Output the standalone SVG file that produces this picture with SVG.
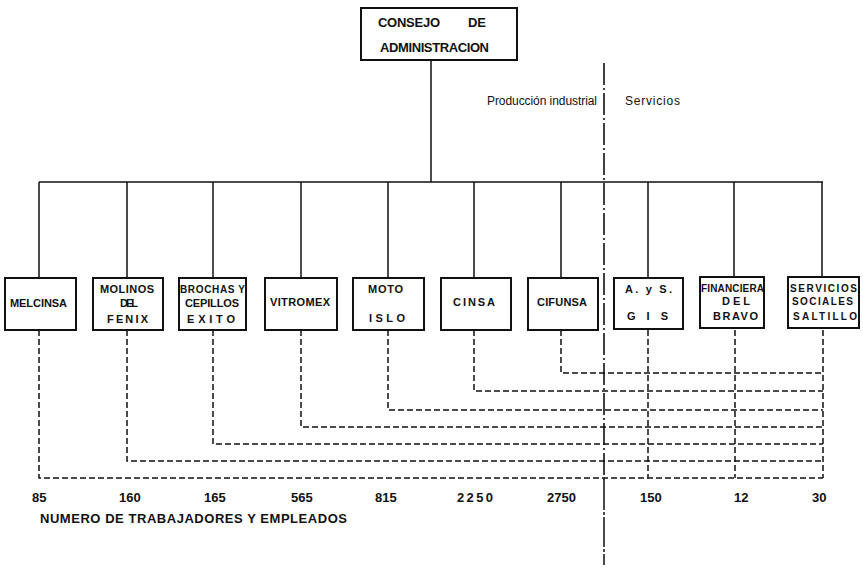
<svg xmlns="http://www.w3.org/2000/svg" width="863" height="570" viewBox="0 0 863 570">
<style>
.box{fill:#fff;stroke:#111;stroke-width:2}
.sol{fill:none;stroke:#111;stroke-width:1.5}
.dsh{fill:none;stroke:#111;stroke-width:1.5;stroke-dasharray:6 3}
.dd{fill:none;stroke:#111;stroke-width:1.6;stroke-dasharray:22 3 2 3}
.t{font-family:"Liberation Sans",Arial,sans-serif;font-weight:bold;font-size:11px;fill:#111}
.s{font-size:10px}
.h{font-family:"Liberation Sans",Arial,sans-serif;font-weight:bold;font-size:13px;fill:#111}
.n{font-family:"Liberation Sans",Arial,sans-serif;font-weight:bold;font-size:13px;fill:#111}
.l{font-family:"Liberation Sans",Arial,sans-serif;font-size:12px;fill:#111}
</style>
<rect width="863" height="570" fill="#fff"/>
<g id="connectors">
<path class="sol" d="M431 60 V182 M39 182 H823 M39 182 V277 M127 182 V277 M213 182 V277 M301 182 V277 M388 182 V277 M474 182 V277 M561 182 V277 M648 182 V277 M734 182 V277 M822 182 V277"/>
<path class="dd" d="M604 63 V480"/>
<path class="sol" d="M604 480 V565" stroke-dasharray="30 2 3 2"/>
<path class="dsh" d="M39 330 V478 H823 M127 330 V461 H823 M213 330 V444 H823 M301 330 V427 H823 M388 330 V410 H823 M474 330 V391 H823 M561 330 V373 H823 M648 330 V478 M735 330 V478 M823 330 V478"/>
</g>
<g id="consejo"><rect class="box" x="361" y="8" width="156" height="52"/>
<text class="h" x="378" y="27" textLength="62" lengthAdjust="spacing">CONSEJO</text>
<text class="h" x="468" y="27" textLength="18" lengthAdjust="spacing">DE</text>
<text class="h" x="380" y="52" textLength="109" lengthAdjust="spacing">ADMINISTRACION</text></g>
<g id="lbl-prod"><text class="l" x="487" y="105" textLength="110" lengthAdjust="spacing">Producción industrial</text></g>
<g id="lbl-serv"><text class="l" x="625" y="105" textLength="55" lengthAdjust="spacing">Servicios</text></g>
<g id="melcinsa"><rect class="box" x="5" y="278" width="71" height="52"/>
<text class="t" x="10" y="307" textLength="57" lengthAdjust="spacing">MELCINSA</text></g>
<g id="molinos"><rect class="box" x="93" y="278" width="70" height="52"/>
<text class="t" x="100" y="293" textLength="54" lengthAdjust="spacing">MOLINOS</text>
<text class="t" x="120" y="307" textLength="18" lengthAdjust="spacing">DEL</text>
<text class="t" x="107" y="323" textLength="41" lengthAdjust="spacing">FENIX</text></g>
<g id="brochas"><rect class="box" x="179" y="278" width="67" height="52"/>
<text class="t s" x="180" y="293" textLength="65" lengthAdjust="spacing">BROCHAS Y</text>
<text class="t" x="185" y="307" textLength="54" lengthAdjust="spacing">CEPILLOS</text>
<text class="t" x="187" y="323" textLength="48" lengthAdjust="spacing">EXITO</text></g>
<g id="vitromex"><rect class="box" x="265" y="278" width="72" height="52"/>
<text class="t" x="270" y="306" textLength="60" lengthAdjust="spacing">VITROMEX</text></g>
<g id="motoislo"><rect class="box" x="353" y="278" width="71" height="52"/>
<text class="t" x="368" y="293" textLength="35" lengthAdjust="spacing">MOTO</text>
<text class="t" x="369" y="322" textLength="36" lengthAdjust="spacing">ISLO</text></g>
<g id="cinsa"><rect class="box" x="441" y="278" width="70" height="52"/>
<text class="t" x="453" y="306" textLength="42" lengthAdjust="spacing">CINSA</text></g>
<g id="cifunsa"><rect class="box" x="528" y="278" width="70" height="52"/>
<text class="t" x="537" y="306" textLength="50" lengthAdjust="spacing">CIFUNSA</text></g>
<g id="ays"><rect class="box" x="614" y="278" width="69" height="51"/>
<text class="t" x="625" y="293" textLength="47" lengthAdjust="spacing">A. y S.</text>
<text class="t" x="627" y="320" textLength="41" lengthAdjust="spacing">G I S</text></g>
<g id="financiera"><rect class="box" x="700" y="277" width="64" height="51"/>
<text class="t s" x="701" y="292" textLength="63" lengthAdjust="spacing">FINANCIERA</text>
<text class="t" x="722" y="305" textLength="28" lengthAdjust="spacing">DEL</text>
<text class="t" x="713" y="320" textLength="45" lengthAdjust="spacing">BRAVO</text></g>
<g id="servicios"><rect class="box" x="788" y="277" width="71" height="51"/>
<text class="t s" x="790" y="292" textLength="67" lengthAdjust="spacing">SERVICIOS</text>
<text class="t s" x="792" y="305" textLength="61" lengthAdjust="spacing">SOCIALES</text>
<text class="t s" x="793" y="320" textLength="64" lengthAdjust="spacing">SALTILLO</text></g>
<g id="numbers">
<text class="n" x="32" y="502">85</text>
<text class="n" x="119" y="502">160</text>
<text class="n" x="204" y="502">165</text>
<text class="n" x="291" y="502">565</text>
<text class="n" x="375" y="502">815</text>
<text class="n" x="457" y="502" textLength="36" lengthAdjust="spacing">2250</text>
<text class="n" x="547" y="502">2750</text>
<text class="n" x="640" y="502">150</text>
<text class="n" x="734" y="502">12</text>
<text class="n" x="812" y="502">30</text>
<text class="n" x="40" y="523" textLength="307" lengthAdjust="spacing" font-size="12">NUMERO DE TRABAJADORES Y EMPLEADOS</text>
</g>
</svg>
